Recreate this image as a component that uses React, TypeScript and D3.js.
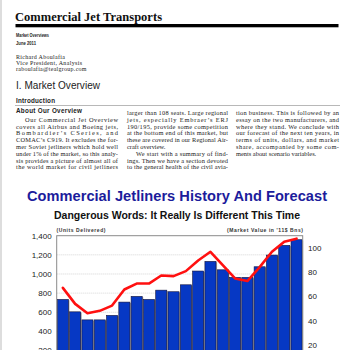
import React from "react";
import * as d3 from "d3";

// years on the x axis (labels fall below the visible page)
const years = [
  "2001", "2002", "2003", "2004", "2005", "2006", "2007", "2008", "2009", "2010",
  "2011", "2012", "2013", "2014", "2015", "2016", "2017", "2018", "2019", "2020",
];

// market value, '11$ Bns (bars, right axis)
const marketValue = [
  57.7, 47.5, 40.9, 40.9, 44.6, 55.5, 60.2, 57.7, 65.3, 64.0,
  69.7, 81.0, 88.9, 82.0, 75.8, 75.8, 84.5, 94.1, 102.1, 106.7,
];

// units delivered (red line, left axis)
const unitsDelivered = [
  855, 688, 590, 615, 670, 838, 900, 900, 984, 978,
  1030, 1141, 1232, 1093, 953, 926, 1072, 1232, 1337, 1369,
];

const unitTicks = [200, 400, 600, 800, 1000, 1200, 1400];
const valueTicks = [20, 40, 60, 80, 100];

// body copy, three justified columns
const col1 = [
  "Our Commercial Jet Overview",
  "covers all Airbus and Boeing jets,",
  "Bombardier\u2019s CSeries, and",
  "COMAC\u2019s C919. It excludes the for-",
  "mer Soviet jetliners which hold well",
  "under 1% of the market, so this analy-",
  "sis provides a picture of almost all of",
  "the world market for civil jetliners",
];
const col2 = [
  "larger than 108 seats. Large regional",
  "jets, especially Embraer\u2019s ERJ",
  "190/195, provide some competition",
  "at the bottom end of this market, but",
  "these are covered in our Regional Air-",
  "craft overview.",
  "We start with a summary of find-",
  "ings. Then we have a section devoted",
  "to the general health of the civil avia-",
];
const col3 = [
  "tion business. This is followed by an",
  "essay on the two manufacturers, and",
  "where they stand. We conclude with",
  "our forecast of the next ten years, in",
  "terms of units, dollars, and market",
  "share, accompanied by some com-",
  "ments about scenario variables.",
];

const serif = "'Liberation Serif', 'Times New Roman', serif";
const sans = "'Liberation Sans', Arial, sans-serif";

function Column(props: {
  lines: string[];
  x: number;
  width: number;
  top: number;
  indent: number[];
  ragged: number[];
}) {
  const lh = 6.8;
  return (
    <g fontFamily={serif} fontSize={6.4} fill="#222">
      {props.lines.map((t, i) => {
        const ind = props.indent.includes(i) ? 9 : 0;
        const just = !props.ragged.includes(i);
        return (
          <text
            key={i}
            x={props.x + ind}
            y={props.top + i * lh}
            textLength={just ? props.width - ind : undefined}
            lengthAdjust="spacing"
          >
            {t}
          </text>
        );
      })}
    </g>
  );
}

export default function App() {
  const left = 56.7, right = 302.7, top = 235.7, bottom = 369.7;

  const x = d3.scaleBand<string>().domain(years).range([left, right])
    .paddingInner(0.1).paddingOuter(0.05);
  const yUnits = d3.scaleLinear().domain([0, 1400]).range([bottom, top]);
  const yValue = d3.scaleLinear().domain([0, 110]).range([bottom, top]);

  const line = d3.line<number>()
    .x((_, i) => (x(years[i]) as number) + x.bandwidth() / 2)
    .y((d) => yUnits(d));

  return (
    <svg width={350} height={350} style={{ position: "fixed", left: 0, top: 0, background: "#fff" }}>
      <rect x={0} y={0} width={2} height={350} fill="#ddd" />

      {/* page header */}
      <text x={15} y={20.5} fontFamily={serif} fontWeight="bold" fontSize={12.5} textLength={147} fill="#111">
        Commercial Jet Transports
      </text>
      <rect x={15.5} y={24} width={323} height={3.3} fill="#000" />
      <g fontFamily={sans} fontWeight="bold" fontSize={5.6} fill="#222">
        <text x={16} y={36.5} textLength={33} lengthAdjust="spacingAndGlyphs">Market Overviews</text>
        <text x={16} y={44.5} textLength={20} lengthAdjust="spacingAndGlyphs">June 2011</text>
      </g>
      <g fontFamily={serif} fontSize={6} fill="#222">
        <text x={16} y={58.5} textLength={49}>Richard Aboulafia</text>
        <text x={16} y={65} textLength={66}>Vice President, Analysis</text>
        <text x={16} y={71.3} textLength={70.5}>raboulafia@tealgroup.com</text>
      </g>
      <text x={16} y={89.3} fontFamily={sans} fontSize={10} textLength={84} fill="#222">
        I. Market Overview
      </text>
      <text x={16} y={103.3} fontFamily={sans} fontWeight="bold" fontSize={6.3} textLength={39} fill="#222">
        Introduction
      </text>
      <line x1={15} x2={340} y1={105.5} y2={105.5} stroke="#999" strokeWidth={0.7} />
      <text x={16} y={113.3} fontFamily={sans} fontWeight="bold" fontSize={6.3} textLength={66} fill="#222">
        About Our Overview
      </text>

      <Column lines={col1} x={16} width={102} top={121.8} indent={[0]} ragged={[]} />
      <Column lines={col2} x={127} width={101} top={115} indent={[6]} ragged={[5]} />
      <Column lines={col3} x={236} width={103} top={115} indent={[]} ragged={[6]} />

      {/* chart titles */}
      <text x={177} y={201} textAnchor="middle" fontFamily={sans} fontWeight="bold" fontSize={14.6}
        textLength={300} fill="#1c1c9c">
        Commercial Jetliners History And Forecast
      </text>
      <text x={177} y={218.8} textAnchor="middle" fontFamily={sans} fontWeight="bold" fontSize={10.5}
        textLength={246} fill="#111">
        Dangerous Words: It Really Is Different This Time
      </text>
      <text x={56.5} y={232.2} fontFamily={sans} fontWeight="bold" fontSize={5} textLength={49} fill="#333">
        (Units Delivered)
      </text>
      <text x={303} y={232.2} textAnchor="end" fontFamily={sans} fontWeight="bold" fontSize={5} textLength={76} fill="#333">
        (Market Value in '11$ Bns)
      </text>

      {/* grid */}
      {unitTicks.slice(0, -1).map((t) => (
        <line key={t} x1={left} x2={right} y1={yUnits(t)} y2={yUnits(t)}
          stroke="#bbb" strokeWidth={0.6} strokeDasharray="1 1" />
      ))}

      {/* bars */}
      {marketValue.map((v, i) => {
        const bx = x(years[i]) as number;
        const by = yValue(v);
        return (
          <g key={years[i]}>
            <rect x={bx + 1.1} y={by + 0.8} width={x.bandwidth()} height={bottom - by} fill="#a8a8a8" />
            <rect x={bx} y={by} width={x.bandwidth()} height={bottom - by}
              fill="#0638c4" stroke="#14143a" strokeWidth={0.6} />
          </g>
        );
      })}

      <path d={line(unitsDelivered) as string} fill="none" stroke="#ff1010" strokeWidth={2.6}
        strokeLinejoin="round" strokeLinecap="round" />

      <rect x={left} y={top} width={right - left} height={bottom - top} fill="none" stroke="#8a8a8a" strokeWidth={1} />

      {/* axes */}
      <g fontFamily={sans} fontSize={8} fill="#222">
        {unitTicks.map((t) => (
          <text key={t} x={51.7} y={yUnits(t)} dy="0.35em" textAnchor="end">
            {d3.format(",")(t)}
          </text>
        ))}
        {valueTicks.map((t) => (
          <text key={t} x={308} y={yValue(t)} dy="0.35em">
            {t}
          </text>
        ))}
      </g>
    </svg>
  );
}
